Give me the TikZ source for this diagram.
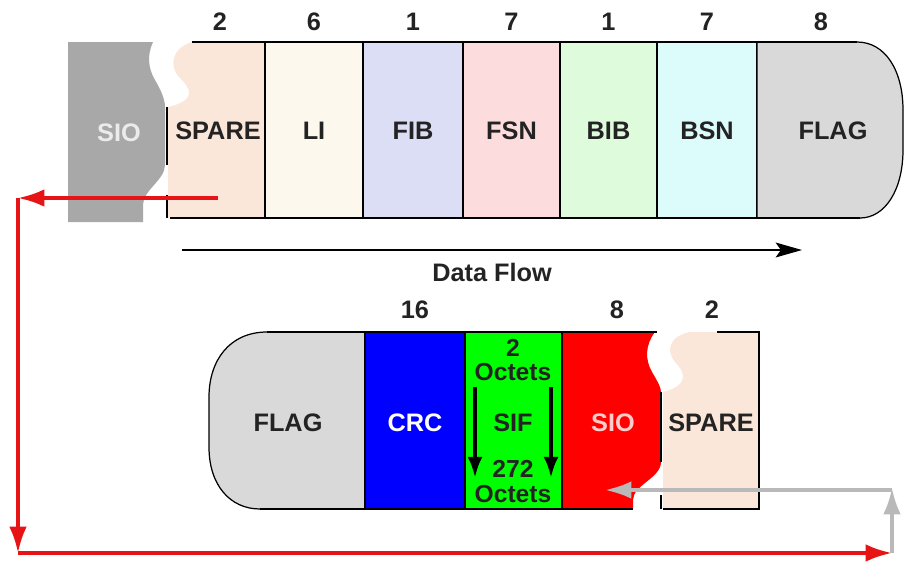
\documentclass[tikz,border=0pt]{standalone}
\usepackage{fontspec}
\setmainfont{Liberation Sans}
\usetikzlibrary{arrows.meta}
\definecolor{sparec}{RGB}{251,231,218}
\definecolor{lic}{RGB}{252,248,238}
\definecolor{fibc}{RGB}{220,222,245}
\definecolor{fsnc}{RGB}{253,220,222}
\definecolor{bibc}{RGB}{222,252,220}
\definecolor{bsnc}{RGB}{220,252,252}
\definecolor{flagc}{RGB}{217,217,217}
\definecolor{siogray}{RGB}{168,168,168}
\definecolor{sifc}{RGB}{0,255,0}
\definecolor{crcc}{RGB}{0,0,255}
\definecolor{sioredc}{RGB}{255,0,0}
\definecolor{loopred}{RGB}{230,20,20}
\definecolor{loopgray}{RGB}{185,185,185}
\definecolor{txtc}{RGB}{35,35,35}

\begin{document}
\begin{tikzpicture}[x=0.02cm,y=-0.02cm,
  font=\fontsize{14.4}{16}\selectfont\bfseries,
  fld/.style={draw=black, line width=.7pt},
  lbl/.style={text=txtc, inner sep=0pt},
  bits/.style={text=txtc, inner sep=0pt},
  tight/.style={lbl, font=\fontsize{14}{15}\selectfont\bfseries},
  redline/.style={loopred, line width=2pt, -{Latex[length=15pt,width=10pt]}},
  grayline/.style={loopgray, line width=2pt, -{Latex[length=15pt,width=10pt]}}]
\useasboundingbox (0,0) rectangle (907,562);

% upper frame
\fill[siogray] (68,42) -- (153,42) .. controls (147,55) and (148,68) .. (155,80)
  .. controls (162,92) and (165,100) .. (165,107) -- (165,165)
  .. controls (165,180) and (143,190) .. (143,205) -- (143,222) -- (68,222) -- cycle;
\fill[sparec] (192,42) -- (265,42) -- (265,218) -- (168,218) -- (168,107)
  .. controls (198,100) and (190,88) .. (180,78) .. controls (168,66) and (172,48) .. (192,42) -- cycle;
\foreach \xa/\xb/\col/\txt/\n in {265/363/lic/LI/6, 363/463/fibc/FIB/1, 463/560/fsnc/FSN/7,
    560/657/bibc/BIB/1, 657/757/bsnc/BSN/7}{
  \filldraw[fld, fill=\col] (\xa,42) rectangle (\xb,218);
  \node[lbl] (u\txt) at ({(\xa+\xb)/2},131) {\txt};
  \node[bits] (ub\txt) at ({(\xa+\xb)/2},22) {\n};
}
\filldraw[fld, fill=flagc] (757,42) -- (857,42) .. controls (885,42) and (903,70) .. (903,110)
  -- (903,150) .. controls (903,190) and (885,218) .. (860,218) -- (757,218) -- cycle;
\draw[line width=1.3pt] (192,42) -- (857,42);
\draw[line width=.8pt] (170,218) -- (860,218);
\draw[line width=1.2pt] (167,107) -- (167,165);
\draw[line width=1.2pt] (167,195) -- (167,218);
\node[inner sep=0pt, text=white!92!black] (usio) at (119,133) {SIO};
\node[lbl] (uspare) at (218,131) {SPARE};
\node[bits] (ubspare) at (220,22) {2};
\node[lbl] (uflag) at (833,131) {FLAG};
\node[bits] (ubflag) at (821,22) {8};

% data flow
\coordinate (df0) at (182,250);
\coordinate (df1) at (802,250);
\draw[line width=.8pt, -{Stealth[length=15pt,width=8.5pt,inset=3pt]}] (df0) -- (df1);
\node[lbl] (dflow) at (492,272) {Data Flow};

% lower frame
\filldraw[fld, fill=flagc] (365,332) -- (267,332) .. controls (230,332) and (209,360) .. (209,397)
  -- (209,447) .. controls (209,485) and (230,509) .. (260,509) -- (365,509) -- cycle;
\filldraw[fld, fill=crcc] (365,332) rectangle (465,509);
\filldraw[fld, fill=sifc] (465,332) rectangle (562,509);
\fill[sioredc] (562,332) -- (655,332) .. controls (645,345) and (645,360) .. (652,372)
  .. controls (658,382) and (661,388) .. (661,392) -- (661,462)
  .. controls (661,478) and (633,485) .. (633,500) -- (633,509) -- (562,509) -- cycle;
\fill[sparec] (717,332) -- (759,332) -- (759,509) -- (663,509) -- (663,392)
  .. controls (690,385) and (685,372) .. (675,362) .. controls (665,350) and (670,336) .. (690,332) -- cycle;
\draw[line width=1.3pt] (267,332) -- (657,332);
\draw[line width=.8pt] (260,509) -- (633,509);
\draw[line width=.8pt] (562,332) -- (562,509);
\draw[line width=.8pt] (717,332) -- (759,332) -- (759,509) -- (663,509);
\draw[line width=1.2pt] (661,392) -- (661,462);
\draw[line width=1.2pt] (661,495) -- (661,509);
\node[lbl] (lflag) at (288,423) {FLAG};
\node[inner sep=0pt, text=white] (lcrc) at (415,423) {CRC};
\node[lbl] (lsif) at (513,423) {SIF};
\node[tight] (lsif2) at (513,348) {2};
\node[tight] (lsifo) at (513,372) {Octets};
\node[tight] (lsif272) at (513,469) {272};
\node[tight] (lsifo2) at (513,494) {Octets};
\node[inner sep=0pt, text=red!20!white] (lsio) at (613,423) {SIO};
\node[lbl] (lspare) at (711,423) {SPARE};
\node[bits] (lb16) at (415,310) {16};
\node[bits] (lb8) at (617,310) {8};
\node[bits] (lb2) at (712,310) {2};
\foreach \x in {475,551}{
  \draw[line width=2.2pt, -{Latex[length=12pt,width=8.5pt]}] (\x,387) -- (\x,478);
}

% loop back
\coordinate (r0) at (218,198);
\coordinate (r1) at (18,198);
\coordinate (r2) at (18,553);
\coordinate (r3) at (892,553);
\coordinate (g1) at (892,488);
\coordinate (g2) at (605,490);
\draw[redline] (r0) -- (r1);
\draw[redline] (r1) -- (r2);
\draw[redline] (r2) -- (r3);
\draw[grayline] (r3) -- (g1);
\draw[grayline] (892,490) -- (g2);
\end{tikzpicture}
\end{document}
